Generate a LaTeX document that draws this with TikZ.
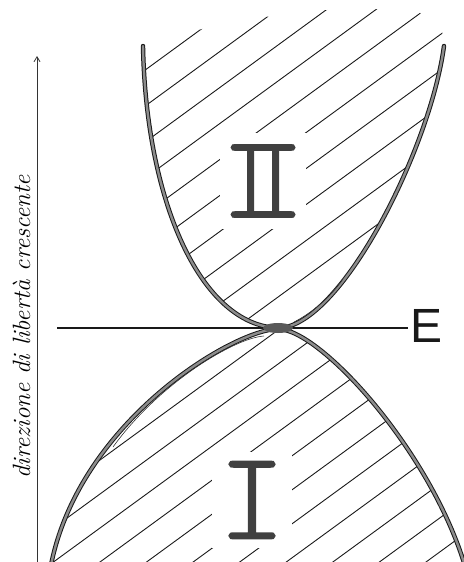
\documentclass[tikz,border=0pt]{standalone}
\usepackage{fontspec}
\usetikzlibrary{arrows.meta}
\newfontfamily\efont{Liberation Sans}
\newfontfamily\rfont{lmmonolt10-regular}[Extension=.otf, FakeBold=1.5]
\tikzset{
  hatch/.style={line width=0.9pt, black!90},
  curve/.style={line width=1.0pt, draw=black!90, double=black!45, double distance=2.4pt, line cap=round},
  thin/.style={line width=0.6pt, black!80},
  mask/.style={fill=white, inner sep=0pt, text=black!75},
}
\begin{document}
\begin{tikzpicture}[x=1pt,y=-1pt]
\useasboundingbox (0,0) rectangle (463,562);
% upper region hatching
\begin{scope}
\clip (143,46) .. controls (146,200) and (200,325) .. (278,328) .. controls (340,328) and (430,150) .. (444,46) -- (442,30) -- (420,13) -- (375,9) -- (327,10) -- (265,17) -- (202,29) -- cycle;
\foreach \c in {176,212,...,500} \draw[hatch] (0,\c) -- (463,{\c-338});
\end{scope}
% lower region hatching
\begin{scope}
\clip (51,565) .. controls (80,420) and (235,329) .. (278,329) .. controls (320,329) and (430,450) .. (465,566) -- (470,570) -- (45,570) -- cycle;
\foreach \c in {533,567,...,950} \draw[hatch] (0,\c) -- (463,{\c-338});
\end{scope}
% labels with white masks
\node[mask, minimum width=86pt, minimum height=96pt] (II) at (263,181) {\scalebox{0.9}[1]{\rfont\fontsize{118}{118}\selectfont I\kern-34.2pt I}};
\node[mask, minimum width=80pt, minimum height=96pt] (I) at (252,500) {\scalebox{1.05}[1.05]{\rfont\fontsize{120}{120}\selectfont I}};
% curves
\draw[curve] (143,46) .. controls (146,200) and (200,325) .. (278,328) .. controls (340,328) and (430,150) .. (444,46);
\draw[curve] (51,565) .. controls (80,420) and (235,329) .. (278,329) .. controls (320,329) and (430,450) .. (465,566);
\draw[thin] (264,336) .. controls (235,338) and (160,382) .. (113,447);
\draw[thin] (294,322) .. controls (310,314) and (330,298) .. (343,279);
% horizontal line and E
\node[inner sep=2pt, anchor=west, text=black!90] (E) at (408,326) {\efont\fontsize{48}{48}\selectfont E};
\coordinate (hl) at (57,328);
\draw[line width=1.1pt, black!90] (hl) -- (E.west |- hl);
\fill[black!65] (278,328) ellipse (15 and 5);
% axis arrow
\coordinate (abot) at (37,562);
\coordinate (atop) at (37,56);
\draw[line width=0.8pt, black!80, -{Straight Barb[length=5pt,width=6pt]}] (abot) -- (atop);
\node[rotate=90, anchor=base, inner sep=0pt] (ax) at (30,327) {\fontsize{25}{25}\selectfont\itshape\addfontfeatures{LetterSpace=11.5}direzione di libertà crescente};
\end{tikzpicture}
\end{document}
